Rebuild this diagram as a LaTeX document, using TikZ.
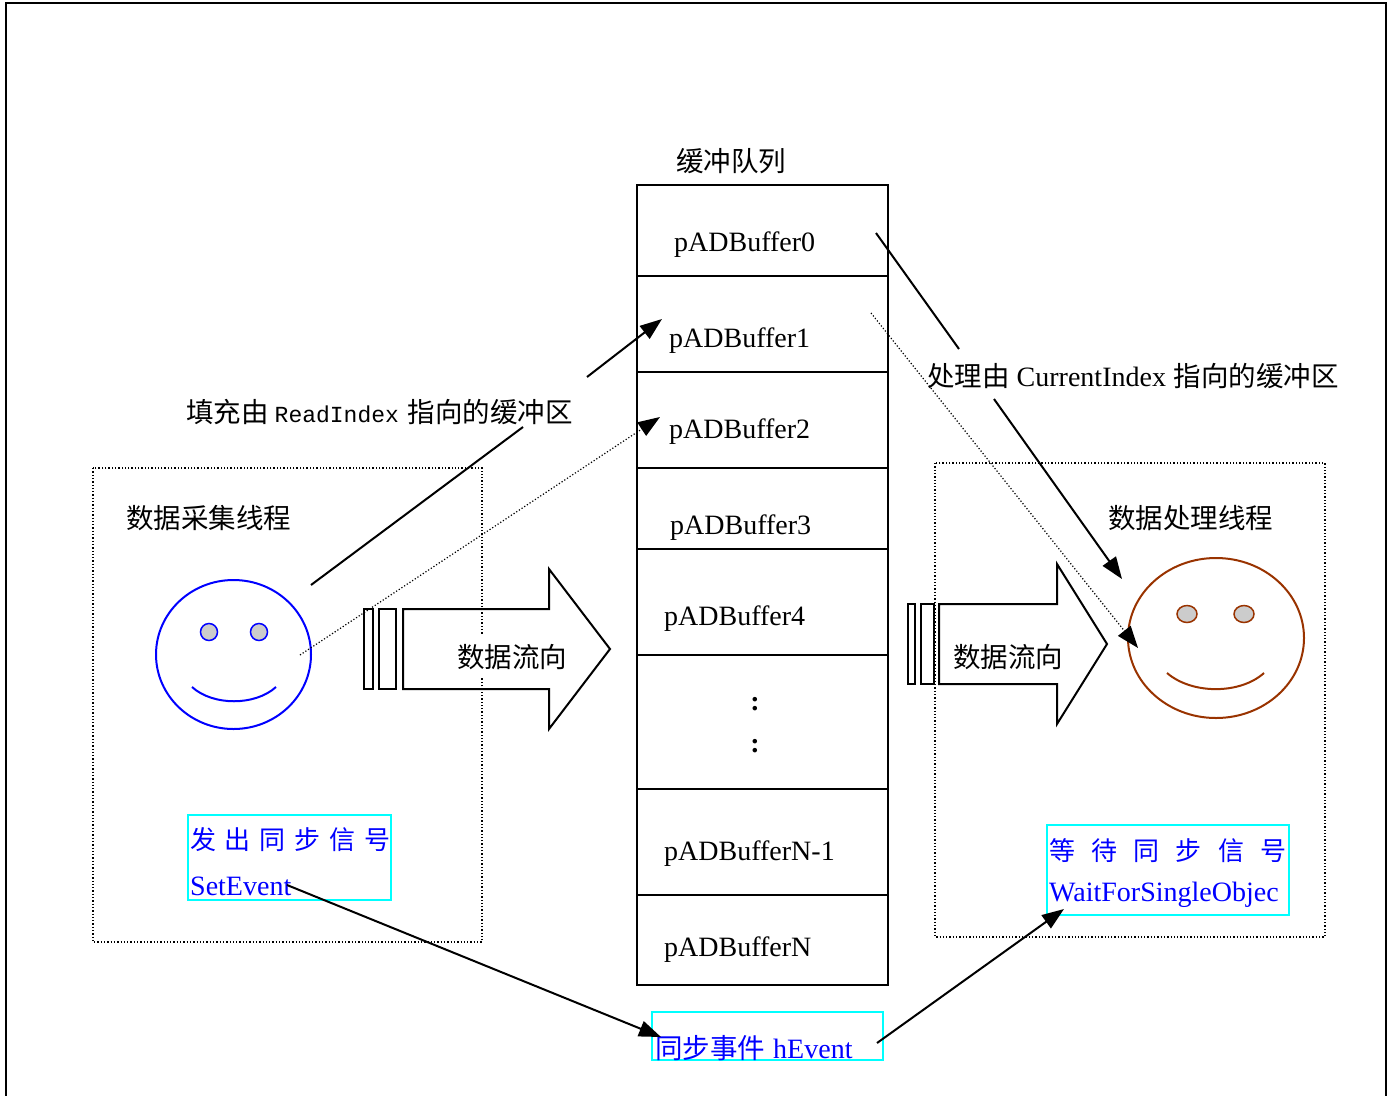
\documentclass[tikz,border=0pt]{standalone}
\usepackage{fontspec}
\setmainfont{Liberation Serif}
\newfontfamily\cjk{Noto Sans CJK SC}
\newfontfamily\monof{Liberation Mono}
\usetikzlibrary{arrows.meta}
\definecolor{faceblue}{RGB}{0,0,255}
\definecolor{facebrown}{RGB}{153,51,0}
\definecolor{eyegray}{RGB}{204,204,204}
\definecolor{boxcyan}{RGB}{0,255,255}
\definecolor{textblue}{RGB}{0,0,255}
\newcommand\tnrsize{\fontsize{28}{32}\selectfont}
\newcommand\cjksize{\cjk\fontsize{27.5}{32}\selectfont}
\newcommand\cjkbsize{\cjk\fontsize{26}{30}\selectfont}
\tikzset{
 frameline/.style={line width=2.5pt},
 cellline/.style={line width=2pt},
 conn/.style={line width=2pt},
 dotconn/.style={line width=1.2pt, dotted},
 dotbox/.style={line width=1.3pt, dotted},
 headtip/.style={-{Triangle[length=22pt,width=16pt]}},
 buflbl/.style={inner sep=0pt, anchor=west, font=\tnrsize},
 cjklbl/.style={inner sep=0pt, anchor=west, font=\cjksize},
 cyanbox/.style={draw=boxcyan, line width=2pt},
 bluetxt/.style={inner sep=0pt, anchor=west, text=textblue},
 blockarrow/.style={line width=2pt, line join=miter},
}
\begin{document}
\begin{tikzpicture}[x=1pt,y=-1pt]
\useasboundingbox (0,0) rectangle (1391,1095);
% outer frame
\draw[frameline] (6,1096) -- (6,3) -- (1386,3) -- (1386,1096);

% dotted thread boxes
\draw[dotbox] (93,468) rectangle (482,942);
\draw[dotbox] (935,463) rectangle (1325,937);

% buffer column
\foreach \ya/\yb in {185/276,276/372,372/468,468/549,549/655,655/789,789/895,895/985}
  \draw[cellline] (637,\ya) rectangle (888,\yb);
\node[cjklbl, anchor=center] (qtitle) at (731,161) {缓冲队列};
\node[buflbl] (b0) at (674,245) {pADBuffer0};
\node[buflbl] (b1) at (669,341) {pADBuffer1};
\node[buflbl] (b2) at (669,432) {pADBuffer2};
\node[buflbl] (b3) at (670,528) {pADBuffer3};
\node[buflbl] (b4) at (664,619) {pADBuffer4};
\node[buflbl, anchor=center] (dots1) at (755,704) {\textbf{:}};
\node[buflbl, anchor=center] (dots2) at (755,746) {\textbf{:}};
\node[buflbl] (bn1) at (664,854) {pADBufferN-1};
\node[buflbl] (bn) at (664,950) {pADBufferN};

% left thread
\node[cjklbl] (lthread) at (126,518) {数据采集线程};
\draw[faceblue, line width=2pt] (233.5,654.5) ellipse [x radius=77.5, y radius=74.5];
\draw[faceblue, fill=eyegray, line width=1.5pt] (209,632) circle [radius=8.5];
\draw[faceblue, fill=eyegray, line width=1.5pt] (259,632) circle [radius=8.5];
\draw[faceblue, line width=2pt] (192,687) .. controls (213,706) and (255,706) .. (276,687);

% right thread
\node[cjklbl] (rthread) at (1108,518) {数据处理线程};
\draw[facebrown, line width=2pt] (1216,638) ellipse [x radius=88, y radius=80];
\draw[facebrown, fill=eyegray, line width=1.5pt] (1187,614) ellipse [x radius=10, y radius=8.5];
\draw[facebrown, fill=eyegray, line width=1.5pt] (1244,614) ellipse [x radius=10, y radius=8.5];
\draw[facebrown, line width=2pt] (1167,673) .. controls (1192,694.5) and (1240,694.5) .. (1264,673);

% block arrows
\draw[blockarrow] (364,609) rectangle (373,689);
\draw[blockarrow] (379,609) rectangle (396,689);
\draw[blockarrow] (403,609) -- (549,609) -- (549,569) -- (610,649) -- (549,729) -- (549,689) -- (403,689) -- cycle;
\node[cjklbl, fill=white, inner sep=8pt] (lflow) at (449,657) {数据流向};

\draw[blockarrow] (908,604) rectangle (915,684);
\draw[blockarrow] (921,604) rectangle (934,684);
\draw[blockarrow] (939,604) -- (1057,604) -- (1057,564) -- (1107,644) -- (1057,724) -- (1057,684) -- (939,684) -- cycle;
\node[cjklbl] (rflow) at (953,657) {数据流向};

% labels of connectors
\node[cjklbl] (filllbl) at (186,412) {填充由\hspace{6pt}{\monof\fontsize{23}{28}\selectfont ReadIndex}\hspace{9pt}指向的缓冲区};
\node[cjklbl] (proclbl) at (927,376) {处理由\hspace{7pt}{\rmfamily\tnrsize CurrentIndex}\hspace{8pt}指向的缓冲区};

% sync boxes
\draw[cyanbox] (188,815) rectangle (391,900);
\node[bluetxt, font=\cjkbsize] (setcn) at (190,840) {\makebox[200pt][s]{发\hfill 出\hfill 同\hfill 步\hfill 信\hfill 号}};
\node[bluetxt, font=\tnrsize] (setev) at (190,886) {SetEvent};

\draw[cyanbox] (1047,825) rectangle (1289,915);
\node[bluetxt, font=\cjkbsize] (waitcn) at (1049,851) {\makebox[237pt][s]{等\hfill 待\hfill 同\hfill 步\hfill 信\hfill 号}};
\node[bluetxt, font=\tnrsize] (waitev) at (1049,895) {WaitForSingleObjec};

\draw[cyanbox] (652,1012) rectangle (883,1060);
\node[bluetxt, font=\cjksize] (hev) at (655,1048) {同步事件\hspace{8pt}{\rmfamily\tnrsize hEvent}};

% connectors
\coordinate (fillA) at (311,585);
\coordinate (fillB) at (523,427);
\coordinate (fillC) at (587,377);
\coordinate (fillT) at (662,319);
\draw[conn] (fillA) -- (fillB);
\draw[conn, headtip] (fillC) -- (fillT);

\coordinate (dA) at (300,655);
\coordinate (dT) at (660,417);
\draw[dotconn, headtip] (dA) -- (dT);

\coordinate (pA) at (876,233);
\coordinate (pB) at (959,349);
\coordinate (pC) at (994,399);
\coordinate (pT) at (1122,579);
\draw[conn] (pA) -- (pB);
\draw[conn, headtip] (pC) -- (pT);

\coordinate (qA) at (871,313);
\coordinate (qT) at (1138,648);
\draw[dotconn, headtip] (qA) -- (qT);

\coordinate (sA) at (287,885);
\coordinate (sT) at (661,1037);
\draw[conn, headtip] (sA) -- (sT);

\coordinate (hA) at (877,1043);
\coordinate (hT) at (1064,909);
\draw[conn, headtip] (hA) -- (hT);
\end{tikzpicture}
\end{document}
